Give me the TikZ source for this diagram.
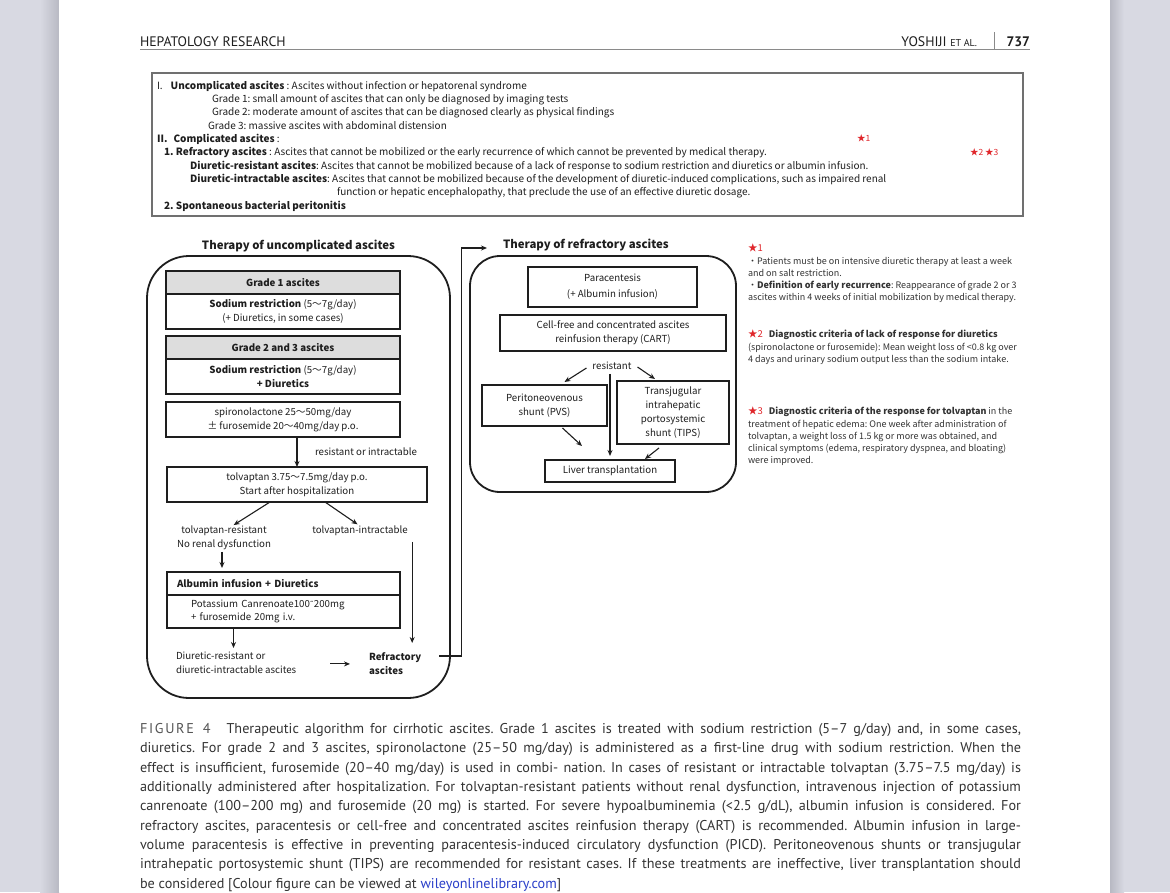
\documentclass[tikz,border=0pt]{standalone}
\usepackage{fontspec}
\setmainfont{PT Sans}
\newfontfamily\gothic{Noto Sans CJK JP}
\newfontfamily\dejavu{DejaVu Sans}
\usetikzlibrary{positioning, arrows.meta, calc}
\frenchspacing

\definecolor{pagegray}{HTML}{D8D9E2}
\definecolor{pageshadow}{HTML}{B8B9C3}
\definecolor{ink}{HTML}{1E1E1E}
\definecolor{ink2}{HTML}{333333}
\definecolor{headgray}{HTML}{DDDDDD}
\definecolor{boxgray}{HTML}{707070}
\definecolor{rulegray}{HTML}{8A8A8A}
\definecolor{starred}{HTML}{E0262B}
\definecolor{linkblue}{HTML}{2A3FC9}
\definecolor{figgray}{HTML}{555555}

\begin{document}
\frenchspacing
\begin{tikzpicture}[x=1pt, y=-1pt,
  every node/.style={inner sep=0pt, outer sep=0pt},
  gtxt/.style={font=\gothic\fontsize{9.7}{13.8}\selectfont, text=ink, align=center},
  flowbox/.style={gtxt, draw=ink, line width=1.1pt, minimum height=35pt},
  headbox/.style={flowbox, fill=headgray, minimum height=23pt},
  panel/.style={draw=ink, line width=1.8pt},
  arr/.style={draw=ink, line width=1.1pt, -{Stealth[length=6pt, width=5pt]}},
  deftxt/.style={font=\gothic\fontsize{10}{13}\selectfont, text=ink, anchor=base west},
  notetxt/.style={font=\gothic\fontsize{9}{12.2}\selectfont, text=ink2, align=left, anchor=north west},
  startxt/.style={font=\gothic\fontsize{8.5}{12}\selectfont, text=starred, anchor=base west},
  paneltitle/.style={font=\gothic\bfseries\fontsize{11.4}{13}\selectfont, text=ink},
  headtxt/.style={font=\fontsize{13.8}{15}\selectfont, text=ink},
  captxt/.style={font=\fontsize{14.2}{19.3}\selectfont, text=ink2, align=left, anchor=north west}
]
\useasboundingbox (0,0) rectangle (1170,892);

% page and margins
\fill[pagegray] (0,0) rectangle (1170,892);
\shade[left color=pagegray, right color=pageshadow] (40,0) rectangle (59,892);
\shade[left color=pageshadow, right color=pagegray] (1110,0) rectangle (1124,892);
\fill[white] (59,0) rectangle (1110,892);

% running head
\node[headtxt, anchor=base west] (journal) at (140,46) {HEPATOLOGY RESEARCH};
\node[headtxt, anchor=base east] (authors) at (977,46) {YOSHIJI {\fontsize{10}{11}\selectfont ET AL.}};
\node[headtxt, font=\bfseries\fontsize{13.8}{15}\selectfont, anchor=base east] (pageno) at (1030,46) {737};
\draw[rulegray, line width=1.4pt] (140,49.5) -- (1030,49.5);
\draw[rulegray, line width=0.8pt] (994,32) -- (994,49.5);

% definitions
\draw[boxgray, line width=1.6pt] (152,73) rectangle (1023,216);
\foreach \x/\t [count=\i] in {
  {157/{I.\hspace{8pt}\textbf{Uncomplicated ascites} : Ascites without infection or hepatorenal syndrome}},
  {212/{Grade 1: small amount of ascites that can only be diagnosed by imaging tests}},
  {212/{Grade 2: moderate amount of ascites that can be diagnosed clearly as physical findings}},
  {208/{Grade 3: massive ascites with abdominal distension}},
  {157/{\textbf{II.}\hspace{6pt}\textbf{Complicated ascites} :}},
  {164/{\textbf{1. Refractory ascites} : Ascites that cannot be mobilized or the early recurrence of which cannot be prevented by medical therapy.}},
  {190/{\textbf{Diuretic-resistant ascites}: Ascites that cannot be mobilized because of a lack of response to sodium restriction and diuretics or albumin infusion.}},
  {190/{\textbf{Diuretic-intractable ascites}: Ascites that cannot be mobilized because of the development of diuretic-induced complications, such as impaired renal}},
  {337/{function or hepatic encephalopathy, that preclude the use of an effective diuretic dosage.}},
  {164/{\textbf{2. Spontaneous bacterial peritonitis}}}}
  \node[deftxt] (def\i) at (\x, {75.7+13.33*\i}) {\t};
\node[startxt] (star1) at (857,141) {★1};
\node[startxt] (star23) at (970,155) {★2 ★3};

% uncomplicated ascites
\node[panel, rounded corners=42pt, minimum width=303pt, minimum height=442pt, anchor=north west] (leftpanel) at (147,256) {};
\node[paneltitle, above=4pt of leftpanel.north] (lefttitle) {Therapy of uncomplicated ascites};

\node[headbox, minimum width=234pt, anchor=north west] (g1head) at (166,271) {\bfseries Grade 1 ascites};
\node[flowbox, minimum width=234pt, below=0pt of g1head] (g1body) {\textbf{Sodium restriction} (5～7g/day)\\(+ Diuretics, in some cases)};
\node[headbox, minimum width=234pt, anchor=north west] (g23head) at (166,336) {\bfseries Grade 2 and 3 ascites};
\node[flowbox, minimum width=234pt, below=0pt of g23head] (g23body) {\textbf{Sodium restriction} (5～7g/day)\\\textbf{+ Diuretics}};
\node[flowbox, minimum width=234pt, anchor=north west] (spiro) at (166,402) {spironolactone 25～50mg/day\\± furosemide 20～40mg/day p.o.};
\node[flowbox, minimum width=260pt, anchor=north west] (tolv) at (167,467) {tolvaptan 3.75～7.5mg/day p.o.\\Start after hospitalization};
\node[gtxt, anchor=west] (resint) at (315,452) {resistant or intractable};

\node[gtxt] (tres) at (224,538) {tolvaptan-resistant\\No renal dysfunction};
\node[gtxt] (tint) at (360,531) {tolvaptan-intractable};

\node[flowbox, minimum height=23pt, text width=213pt, inner xsep=10pt, align=left, anchor=north west] (albhead) at (167,572) {\bfseries Albumin infusion + Diuretics};
\node[flowbox, minimum height=33pt, text width=185pt, inner xsep=24pt, align=left, below=0pt of albhead] (albbody) {Potassium Canrenoate100{\dejavu\fontsize{8}{10}\selectfont ˜}200mg\\+ furosemide 20mg i.v.};

\node[gtxt, align=left, anchor=north west] (dres) at (176,652) {Diuretic-resistant or\\diuretic-intractable ascites};
\node[gtxt, align=left, anchor=north west] (refr) at (369,653) {\bfseries Refractory\\\bfseries ascites};

\draw[arr] (spiro.south -| tolv.north) -- (tolv.north);
\draw[arr, shorten >=2pt] ([xshift=-27pt]tolv.south) -- ([xshift=8pt]tres.north);
\draw[arr, shorten >=3pt] ([xshift=28pt]tolv.south) -- (tint.north);
\draw[arr, shorten <=2pt, shorten >=4pt] ([xshift=-2pt]tres.south) -- ([xshift=-2pt]tres.south |- albhead.north);
\draw[arr, shorten >=4pt] ([xshift=-50pt]albbody.south) -- ([xshift=-50pt]albbody.south |- dres.north);
\draw[arr] ($(tint.south -| refr.north east)+(-9,6)$) -- ($(refr.north east)+(-9,-10)$);
\draw[arr] ([xshift=-39pt]refr.west) -- ([xshift=-19pt]refr.west);

% refractory ascites
\node[panel, rounded corners=30pt, minimum width=266pt, minimum height=236pt, anchor=north west] (rightpanel) at (470,256) {};
\node[paneltitle, anchor=west] (righttitle) at (503,245) {Therapy of refractory ascites};

\node[flowbox, minimum width=169pt, minimum height=40pt] (para) at (612.5,287) {Paracentesis\\[2.5pt](+ Albumin infusion)};
\node[flowbox, minimum width=226pt, minimum height=36pt] (cart) at (613,333) {Cell-free and concentrated ascites\\reinfusion therapy (CART)};
\node[gtxt] (resist) at (612,366) {resistant};
\node[flowbox, minimum width=125pt, minimum height=41pt] (pvs) at (544.5,405.5) {Peritoneovenous\\shunt (PVS)};
\node[flowbox, minimum width=112pt, minimum height=63pt] (tips) at (673,412.5) {Transjugular\\intrahepatic\\portosystemic\\shunt (TIPS)};
\node[flowbox, minimum width=130pt, minimum height=22pt] (liver) at (610,471) {Liver transplantation};

\draw[arr] ([xshift=-6pt,yshift=-2pt]resist.west) -- ([xshift=20pt,yshift=3pt]pvs.north);
\draw[arr] ([xshift=6pt,yshift=-1pt]resist.east) -- ([xshift=-18pt,yshift=2pt]tips.north);
\draw[arr, shorten <=4pt, shorten >=4pt] (resist.south -| liver.north) -- (liver.north);
\draw[arr] ([xshift=18pt,yshift=-2pt]pvs.south) -- ([xshift=37pt,yshift=14pt]liver.north west);
\draw[arr] ([xshift=-14pt,yshift=-4pt]tips.south) -- ([xshift=35pt,yshift=1pt]liver.north);

% link between the two panels
\draw[arr, line width=1.2pt] ([xshift=18pt,yshift=-3pt]refr.north east) -- ++(22,0) |- ([xshift=-16pt,yshift=-3pt]righttitle.west);

% notes
\node[notetxt] (note1) at (748,244) {{\color{starred}\fontsize{9.5}{12}\selectfont ★1}\\・Patients must be on intensive diuretic therapy at least a week\\and on salt restriction.\\・\textbf{Definition of early recurrence}: Reappearance of grade 2 or 3\\ascites within 4 weeks of initial mobilization by medical therapy.};
\node[notetxt] (note2) at (748,330) {{\color{starred}\fontsize{9.5}{12}\selectfont ★2}\hspace{6pt}\textbf{Diagnostic criteria of lack of response for diuretics}\\(spironolactone or furosemide): Mean weight loss of <0.8 kg over\\4 days and urinary sodium output less than the sodium intake.};
\node[notetxt] (note3) at (748,407) {{\color{starred}\fontsize{9.5}{12}\selectfont ★3}\hspace{6pt}\textbf{Diagnostic criteria of the response for tolvaptan} in the\\treatment of hepatic edema: One week after administration of\\tolvaptan, a weight loss of 1.5 kg or more was obtained, and\\clinical symptoms (edema, respiratory dyspnea, and bloating)\\were improved.};

% caption
\node[captxt] (caption) at (140,723.5) {\frenchspacing%
\makebox[881pt][s]{{\color{figgray}\addfontfeature{LetterSpace=12}FIGURE 4}\hspace{10pt} Therapeutic algorithm for cirrhotic ascites. Grade 1 ascites is treated with sodium restriction (5–7 g/day) and, in some cases,}\\
\makebox[881pt][s]{diuretics. For grade 2 and 3 ascites, spironolactone (25–50 mg/day) is administered as a first-line drug with sodium restriction. When the}\\
\makebox[881pt][s]{effect is insufficient, furosemide (20–40 mg/day) is used in combi- nation. In cases of resistant or intractable tolvaptan (3.75–7.5 mg/day) is}\\
\makebox[881pt][s]{additionally administered after hospitalization. For tolvaptan-resistant patients without renal dysfunction, intravenous injection of potassium}\\
\makebox[881pt][s]{canrenoate (100–200 mg) and furosemide (20 mg) is started. For severe hypoalbuminemia (<2.5 g/dL), albumin infusion is considered. For}\\
\makebox[881pt][s]{refractory ascites, paracentesis or cell-free and concentrated ascites reinfusion therapy (CART) is recommended. Albumin infusion in large-}\\
\makebox[881pt][s]{volume paracentesis is effective in preventing paracentesis-induced circulatory dysfunction (PICD). Peritoneovenous shunts or transjugular}\\
\makebox[881pt][s]{intrahepatic portosystemic shunt (TIPS) are recommended for resistant cases. If these treatments are ineffective, liver transplantation should}\\
be considered [Colour figure can be viewed at \textcolor{linkblue}{wileyonlinelibrary.com}]};
\end{tikzpicture}
\end{document}
